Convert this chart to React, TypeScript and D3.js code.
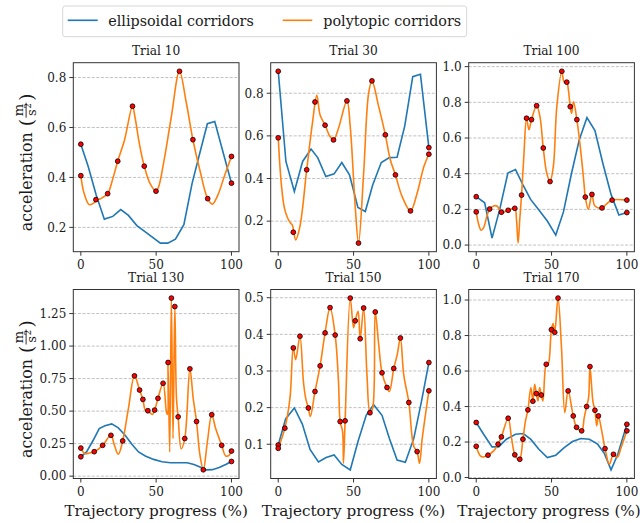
import React, { useEffect } from 'react';
import * as d3 from 'd3';

const BLUE = '#1f77b4';
const ORANGE = '#ff7f0e';
const FONT = 'DejaVu Serif';

const titles = ['Trial 10', 'Trial 30', 'Trial 100', 'Trial 130', 'Trial 150', 'Trial 170'];
const legendLabels = ['ellipsoidal corridors', 'polytopic corridors'];
const xTicks = [0, 50, 100];

// Trial 10
const ellipsoidal10 = [[0, 0.533], [4.9, 0.444], [10.2, 0.33], [15.6, 0.233], [21.2, 0.244], [26.5, 0.271], [31.6, 0.248], [37.2, 0.207], [43.9, 0.177], [52.8, 0.137], [57.7, 0.137], [62.8, 0.153], [68.4, 0.211], [73.9, 0.377], [79.5, 0.51], [84, 0.615], [88.9, 0.624], [100, 0.377]];
const polytopic10 = [[0, 0.407], [2, 0.34], [5.5, 0.291], [8, 0.295], [10, 0.305], [14, 0.318], [17.8, 0.335], [21, 0.39], [24.5, 0.465], [29, 0.55], [34.3, 0.685], [36, 0.64], [39, 0.53], [42.1, 0.445], [46, 0.375], [49.9, 0.345], [51.5, 0.36], [55, 0.46], [60, 0.64], [65.5, 0.825], [70, 0.7], [74.4, 0.551], [79, 0.43], [84.2, 0.315], [87.3, 0.293], [91, 0.33], [95, 0.4], [100, 0.484]];
const points10 = [[0, 0.533], [0, 0.407], [10, 0.311], [17.8, 0.335], [24.5, 0.465], [34.3, 0.685], [42.1, 0.445], [49.9, 0.345], [65.5, 0.825], [74.4, 0.551], [84.2, 0.315], [100, 0.484], [100, 0.377]];
const yTicks10 = [0.2, 0.4, 0.6, 0.8];

// Trial 30
const ellipsoidal30 = [[0, 0.903], [5.1, 0.48], [10.7, 0.339], [16.2, 0.48], [21.8, 0.538], [26.2, 0.498], [31.6, 0.409], [37.1, 0.422], [42.2, 0.475], [47.3, 0.417], [52.9, 0.264], [57.8, 0.245], [62.7, 0.37], [68.4, 0.475], [73.8, 0.498], [78.9, 0.5], [84, 0.647], [89.3, 0.878], [94.4, 0.889], [100, 0.545]];
const polytopic30 = [[0, 0.591], [2.2, 0.363], [4.4, 0.253], [7.8, 0.194], [9.3, 0.183], [11.6, 0.112], [14.4, 0.175], [18.9, 0.441], [22.7, 0.66], [25.6, 0.79], [27.8, 0.698], [31.1, 0.65], [34.4, 0.597], [36.7, 0.581], [40, 0.636], [45.6, 0.764], [47.8, 0.644], [51.1, 0.269], [53.3, 0.097], [56.7, 0.425], [60, 0.8], [62.2, 0.858], [66.7, 0.737], [71.1, 0.605], [74.4, 0.488], [77.8, 0.417], [82.2, 0.316], [87.8, 0.248], [92.2, 0.331], [96.7, 0.456], [100, 0.514]];
const points30 = [[0, 0.903], [0, 0.591], [10, 0.148], [18.9, 0.441], [24.4, 0.759], [31.1, 0.65], [36.7, 0.581], [45.6, 0.764], [53.3, 0.097], [62.2, 0.858], [71.1, 0.605], [77.8, 0.417], [87.8, 0.248], [100, 0.545], [100, 0.514]];
const yTicks30 = [0.2, 0.4, 0.6, 0.8];

// Trial 100
const ellipsoidal100 = [[0, 0.271], [5.6, 0.237], [10.5, 0.039], [15.6, 0.2], [21, 0.404], [26.1, 0.423], [31.2, 0.334], [36.1, 0.256], [41.6, 0.197], [47.2, 0.135], [52.8, 0.056], [57.9, 0.186], [63.3, 0.404], [68.4, 0.59], [73.5, 0.714], [78.8, 0.642], [84, 0.46], [89.5, 0.284], [94.7, 0.169], [100, 0.182]];
const polytopic100 = [[0, 0.186], [1.6, 0.117], [3.3, 0.083], [4.9, 0.098], [7.1, 0.163], [8.9, 0.202], [11.6, 0.219], [13.8, 0.219], [16.7, 0.184], [21.2, 0.195], [25.6, 0.206], [26.7, 0.145], [27.8, 0.011], [28.9, 0.145], [30.1, 0.28], [31.6, 0.497], [33.4, 0.711], [35, 0.646], [36.7, 0.703], [40.1, 0.781], [42.3, 0.72], [44.5, 0.544], [46.8, 0.404], [49, 0.356], [51.2, 0.442], [53.5, 0.776], [56.8, 0.974], [58.3, 0.915], [60.1, 0.913], [61.2, 0.868], [62.4, 0.776], [63.3, 0.738], [64.6, 0.803], [66.8, 0.703], [69.3, 0.534], [71.5, 0.349], [72.4, 0.269], [74.4, 0.2], [76.8, 0.284], [78.8, 0.219], [83.5, 0.208], [86.2, 0.228], [90.2, 0.252], [100, 0.252]];
const points100 = [[0, 0.271], [0, 0.186], [8.9, 0.202], [16.7, 0.184], [21.2, 0.195], [25.6, 0.206], [30.1, 0.28], [33.4, 0.711], [36.7, 0.703], [40.1, 0.781], [44.5, 0.544], [49, 0.356], [56.8, 0.974], [60.1, 0.913], [62.4, 0.776], [66.8, 0.703], [72.4, 0.269], [76.8, 0.284], [83.5, 0.208], [90.2, 0.252], [100, 0.252], [100, 0.182]];
const yTicks100 = [0, 0.2, 0.4, 0.6, 0.8, 1.0];

// Trial 130
const ellipsoidal130 = [[0, 0.149], [3.8, 0.186], [8.2, 0.276], [12.2, 0.366], [16, 0.387], [20.5, 0.402], [24.9, 0.371], [29.4, 0.314], [33.9, 0.245], [38.3, 0.186], [42.8, 0.155], [48.3, 0.129], [53.9, 0.111], [59.5, 0.103], [65, 0.103], [70.6, 0.103], [75.1, 0.09], [79.5, 0.068], [83.5, 0.048], [87.3, 0.05], [91.8, 0.066], [96.2, 0.09], [100, 0.113]];
const polytopic130 = [[0, 0.216], [2.7, 0.173], [5.6, 0.178], [8.9, 0.188], [14.5, 0.237], [20, 0.314], [22.3, 0.237], [24.9, 0.168], [27.8, 0.271], [31.6, 0.521], [35.6, 0.771], [39, 0.662], [41.2, 0.59], [42.8, 0.508], [44.5, 0.503], [47.5, 0.474], [49, 0.508], [51.2, 0.598], [54.6, 0.714], [56.8, 0.495], [57.5, 0.474], [57.9, 0.874], [59, 0.186], [60.1, 1.369], [61.2, 0.289], [62.4, 1.304], [63.5, 0.598], [64.6, 0.456], [66.6, 0.211], [69, 0.289], [72.4, 0.825], [74.6, 0.598], [76.8, 0.42], [79.1, 0.16], [81.3, 0.049], [84, 0.263], [86.9, 0.472], [89.5, 0.366], [93.5, 0.237], [96.2, 0.155], [98.4, 0.16], [100, 0.193]];
const points130 = [[0, 0.216], [0, 0.149], [8.9, 0.188], [14.5, 0.237], [20, 0.314], [27.8, 0.271], [35.6, 0.771], [39, 0.662], [41.2, 0.59], [44.5, 0.503], [49, 0.508], [51.2, 0.598], [54.6, 0.714], [57.9, 0.874], [60.1, 1.369], [62.4, 1.304], [64.6, 0.456], [69, 0.289], [72.4, 0.825], [76.8, 0.42], [81.3, 0.049], [86.9, 0.472], [93.5, 0.237], [100, 0.193], [100, 0.113]];
const yTicks130 = [0, 0.25, 0.5, 0.75, 1.0, 1.25];

// Trial 150
const ellipsoidal150 = [[0, 0.098], [4.9, 0.169], [10.7, 0.199], [16, 0.155], [21.1, 0.086], [26.7, 0.052], [31.8, 0.064], [37.1, 0.071], [42.2, 0.045], [47.8, 0.03], [52.9, 0.107], [58.4, 0.179], [63.3, 0.208], [68.9, 0.179], [73.8, 0.116], [78.9, 0.057], [84.4, 0.051], [90, 0.116], [95.1, 0.217], [100, 0.323]];
const polytopic150 = [[0, 0.089], [4.4, 0.144], [7.8, 0.226], [10, 0.363], [11.6, 0.331], [14.4, 0.395], [16.7, 0.272], [18.2, 0.226], [20, 0.199], [21.3, 0.176], [24.4, 0.244], [27.8, 0.314], [31.1, 0.404], [34.4, 0.473], [37.8, 0.398], [40, 0.272], [41.1, 0.162], [42.7, 0.135], [43.3, 0.048], [44.4, 0.164], [47.8, 0.499], [50, 0.418], [51.1, 0.437], [53, 0.463], [54.4, 0.388], [56.7, 0.472], [58.9, 0.29], [60.9, 0.186], [62.7, 0.199], [64.4, 0.461], [66.7, 0.372], [68.9, 0.295], [72.2, 0.255], [73.8, 0.244], [76.7, 0.307], [79, 0.345], [81.1, 0.39], [83.3, 0.29], [86.7, 0.214], [90, 0.094], [92.2, 0.08], [93.8, 0.048], [95.6, 0.116], [100, 0.246]];
const points150 = [[0, 0.098], [0, 0.089], [4.4, 0.144], [10, 0.363], [14.4, 0.395], [20, 0.199], [24.4, 0.244], [27.8, 0.314], [31.1, 0.404], [34.4, 0.473], [37.8, 0.398], [41.1, 0.162], [44.4, 0.164], [47.8, 0.499], [51.1, 0.437], [54.4, 0.388], [56.7, 0.472], [60.9, 0.186], [64.4, 0.461], [68.9, 0.295], [72.2, 0.255], [76.7, 0.307], [81.1, 0.39], [86.7, 0.214], [92.2, 0.08], [100, 0.323], [100, 0.246]];
const yTicks150 = [0.1, 0.2, 0.3, 0.4, 0.5];

// Trial 170
const ellipsoidal170 = [[0, 0.31], [4.9, 0.244], [10.5, 0.173], [14.9, 0.173], [20, 0.216], [26.1, 0.244], [31.2, 0.248], [36.1, 0.216], [41.6, 0.159], [47.2, 0.113], [52.8, 0.126], [58.4, 0.169], [63.9, 0.203], [69.5, 0.22], [75.1, 0.216], [80.6, 0.188], [85.1, 0.135], [89.5, 0.043], [94, 0.131], [100, 0.3]];
const polytopic170 = [[0, 0.176], [2.7, 0.122], [4.9, 0.116], [7.8, 0.126], [11.6, 0.15], [14.5, 0.188], [16.7, 0.229], [21.2, 0.334], [23.4, 0.225], [25.6, 0.128], [27.6, 0.103], [28.9, 0.103], [31, 0.216], [32.7, 0.319], [34.3, 0.381], [36.3, 0.507], [37.6, 0.43], [38.8, 0.525], [39.9, 0.473], [41, 0.432], [42.1, 0.507], [43.2, 0.465], [44.3, 0.432], [46.5, 0.638], [47.7, 0.638], [49.9, 0.833], [51, 0.867], [52.1, 0.818], [54.3, 1.011], [56.6, 0.732], [58.8, 0.366], [61, 0.488], [64.4, 0.347], [66.6, 0.283], [70, 0.263], [71.7, 0.338], [73.3, 0.4], [74.6, 0.45], [75.5, 0.625], [77.5, 0.426], [78.8, 0.379], [80, 0.291], [81.1, 0.347], [83.3, 0.263], [85.5, 0.163], [88.4, 0.075], [91.1, 0.131], [93.5, 0.113], [96.2, 0.169], [100, 0.263]];
const points170 = [[0, 0.31], [0, 0.176], [7.8, 0.126], [14.5, 0.188], [16.7, 0.229], [21.2, 0.334], [25.6, 0.128], [28.9, 0.103], [31, 0.216], [34.3, 0.381], [37.6, 0.43], [39.9, 0.473], [43.2, 0.465], [46.5, 0.638], [49.9, 0.833], [52.1, 0.818], [54.3, 1.011], [61, 0.488], [64.4, 0.347], [66.6, 0.283], [70, 0.263], [73.3, 0.4], [75.5, 0.625], [78.8, 0.379], [81.1, 0.347], [85.5, 0.163], [91.1, 0.131], [100, 0.3], [100, 0.263]];
const yTicks170 = [0, 0.2, 0.4, 0.6, 0.8, 1.0];

const panels = [
  { blue: ellipsoidal10, orange: polytopic10, dots: points10, ticks: yTicks10, fmt: '.1f' },
  { blue: ellipsoidal30, orange: polytopic30, dots: points30, ticks: yTicks30, fmt: '.1f' },
  { blue: ellipsoidal100, orange: polytopic100, dots: points100, ticks: yTicks100, fmt: '.1f' },
  { blue: ellipsoidal130, orange: polytopic130, dots: points130, ticks: yTicks130, fmt: '.2f' },
  { blue: ellipsoidal150, orange: polytopic150, dots: points150, ticks: yTicks150, fmt: '.1f' },
  { blue: ellipsoidal170, orange: polytopic170, dots: points170, ticks: yTicks170, fmt: '.1f' },
];

const PW = 165.7;
const PH = 189;
const colLeft = [73.3, 270.7, 468.7];
const rowTop = [62.7, 289.5];
const INK = '#1a1a1a';

type P = number[];

// rotated y label with a small stacked fraction for m / s^2
function YLabel({ cx, cy }: { cx: number; cy: number }) {
  return (
    <g transform={`translate(${cx},${cy}) rotate(-90)`} fontFamily={FONT} fill={INK}>
      <text x={-74} y={0} fontSize={15.8}>acceleration</text>
      <text x={31} y={1.5} fontSize={18.5}>(</text>
      <text x={47} y={-9} fontSize={13} textAnchor="middle">m</text>
      <line x1={39.5} x2={54.5} y1={-5.6} y2={-5.6} stroke={INK} strokeWidth={0.9} />
      <text x={44.5} y={4.6} fontSize={13} textAnchor="middle">s</text>
      <text x={51.5} y={-0.4} fontSize={8.5} textAnchor="middle">2</text>
      <text x={56.5} y={1.5} fontSize={18.5}>)</text>
    </g>
  );
}

function Panel({ i }: { i: number }) {
  const { blue, orange, dots, ticks, fmt } = panels[i];
  const col = i % 3;
  const row = Math.floor(i / 3);
  const left = colLeft[col];
  const top = rowTop[row];
  const x = d3.scaleLinear().domain([-5, 105]).range([0, PW]);
  const vals = [...blue, ...orange, ...dots].map(d => d[1]);
  const [lo, hi] = d3.extent(vals) as [number, number];
  const pad = (hi - lo) * 0.05;
  const y = d3.scaleLinear().domain([lo - pad, hi + pad]).range([PH, 0]);
  const lineB = d3.line<P>().x(d => x(d[0])).y(d => y(d[1]));
  const lineO = d3.line<P>().x(d => x(d[0])).y(d => y(d[1])).curve(d3.curveCatmullRom.alpha(0.5));
  const f = d3.format(fmt);
  const xlabX = Math.min(PW / 2, 640 - left - 91);
  return (
    <g transform={`translate(${left},${top})`} fontFamily={FONT}>
      {ticks.map(t => (
        <line key={'g' + t} x1={0} x2={PW} y1={y(t)} y2={y(t)} stroke="#b0b0b0" strokeWidth={0.8} strokeDasharray="3,1.6" />
      ))}
      <path d={lineB(blue) || ''} fill="none" stroke={BLUE} strokeWidth={1.6} />
      <path d={lineO(orange) || ''} fill="none" stroke={ORANGE} strokeWidth={1.6} />
      {dots.map((d, k) => (
        <circle key={k} cx={x(d[0])} cy={y(d[1])} r={2.4} fill="red" stroke="#000" strokeWidth={0.8} />
      ))}
      <rect x={0} y={0} width={PW} height={PH} fill="none" stroke="#333" strokeWidth={1} />
      {ticks.map(t => (
        <g key={'y' + t}>
          <line x1={-4} x2={0} y1={y(t)} y2={y(t)} stroke="#333" />
          <text x={-7} y={y(t)} dy="0.36em" textAnchor="end" fontSize={12} fill={INK}>{f(t)}</text>
        </g>
      ))}
      {xTicks.map(t => (
        <g key={'x' + t}>
          <line x1={x(t)} x2={x(t)} y1={PH} y2={PH + 4} stroke="#333" />
          <text x={x(t)} y={PH + 17} textAnchor="middle" fontSize={12} fill={INK}>{t}</text>
        </g>
      ))}
      <text x={PW / 2} y={-7.5} textAnchor="middle" fontSize={12.2} fill={INK}>{titles[i]}</text>
      {row === 1 && (
        <text x={xlabX} y={PH + 37} textAnchor="middle" fontSize={15.2} fill={INK}>Trajectory progress (%)</text>
      )}
    </g>
  );
}

export default function App() {
  useEffect(() => {
    document.body.style.margin = '0';
  }, []);
  return (
    <svg width={640} height={523} style={{ display: 'block', background: '#fff' }}>
      <rect x={0} y={0} width={640} height={523} fill="#fff" />
      <g>
        <rect x={62.7} y={6} width={404} height={30.7} rx={2.5} fill="#fff" stroke="#cccccc" strokeWidth={0.8} />
        <line x1={67.7} x2={97.7} y1={20.3} y2={20.3} stroke={BLUE} strokeWidth={1.6} />
        <text x={108.3} y={25.5} fontFamily={FONT} fontSize={14.3} fill={INK}>{legendLabels[0]}</text>
        <line x1={282.7} x2={312.3} y1={20.3} y2={20.3} stroke={ORANGE} strokeWidth={1.6} />
        <text x={323.3} y={25.5} fontFamily={FONT} fontSize={14.3} fill={INK}>{legendLabels[1]}</text>
      </g>
      {panels.map((_, i) => <Panel key={i} i={i} />)}
      <YLabel cx={31.7} cy={rowTop[0] + PH / 2} />
      <YLabel cx={31.7} cy={rowTop[1] + PH / 2} />
    </svg>
  );
}
